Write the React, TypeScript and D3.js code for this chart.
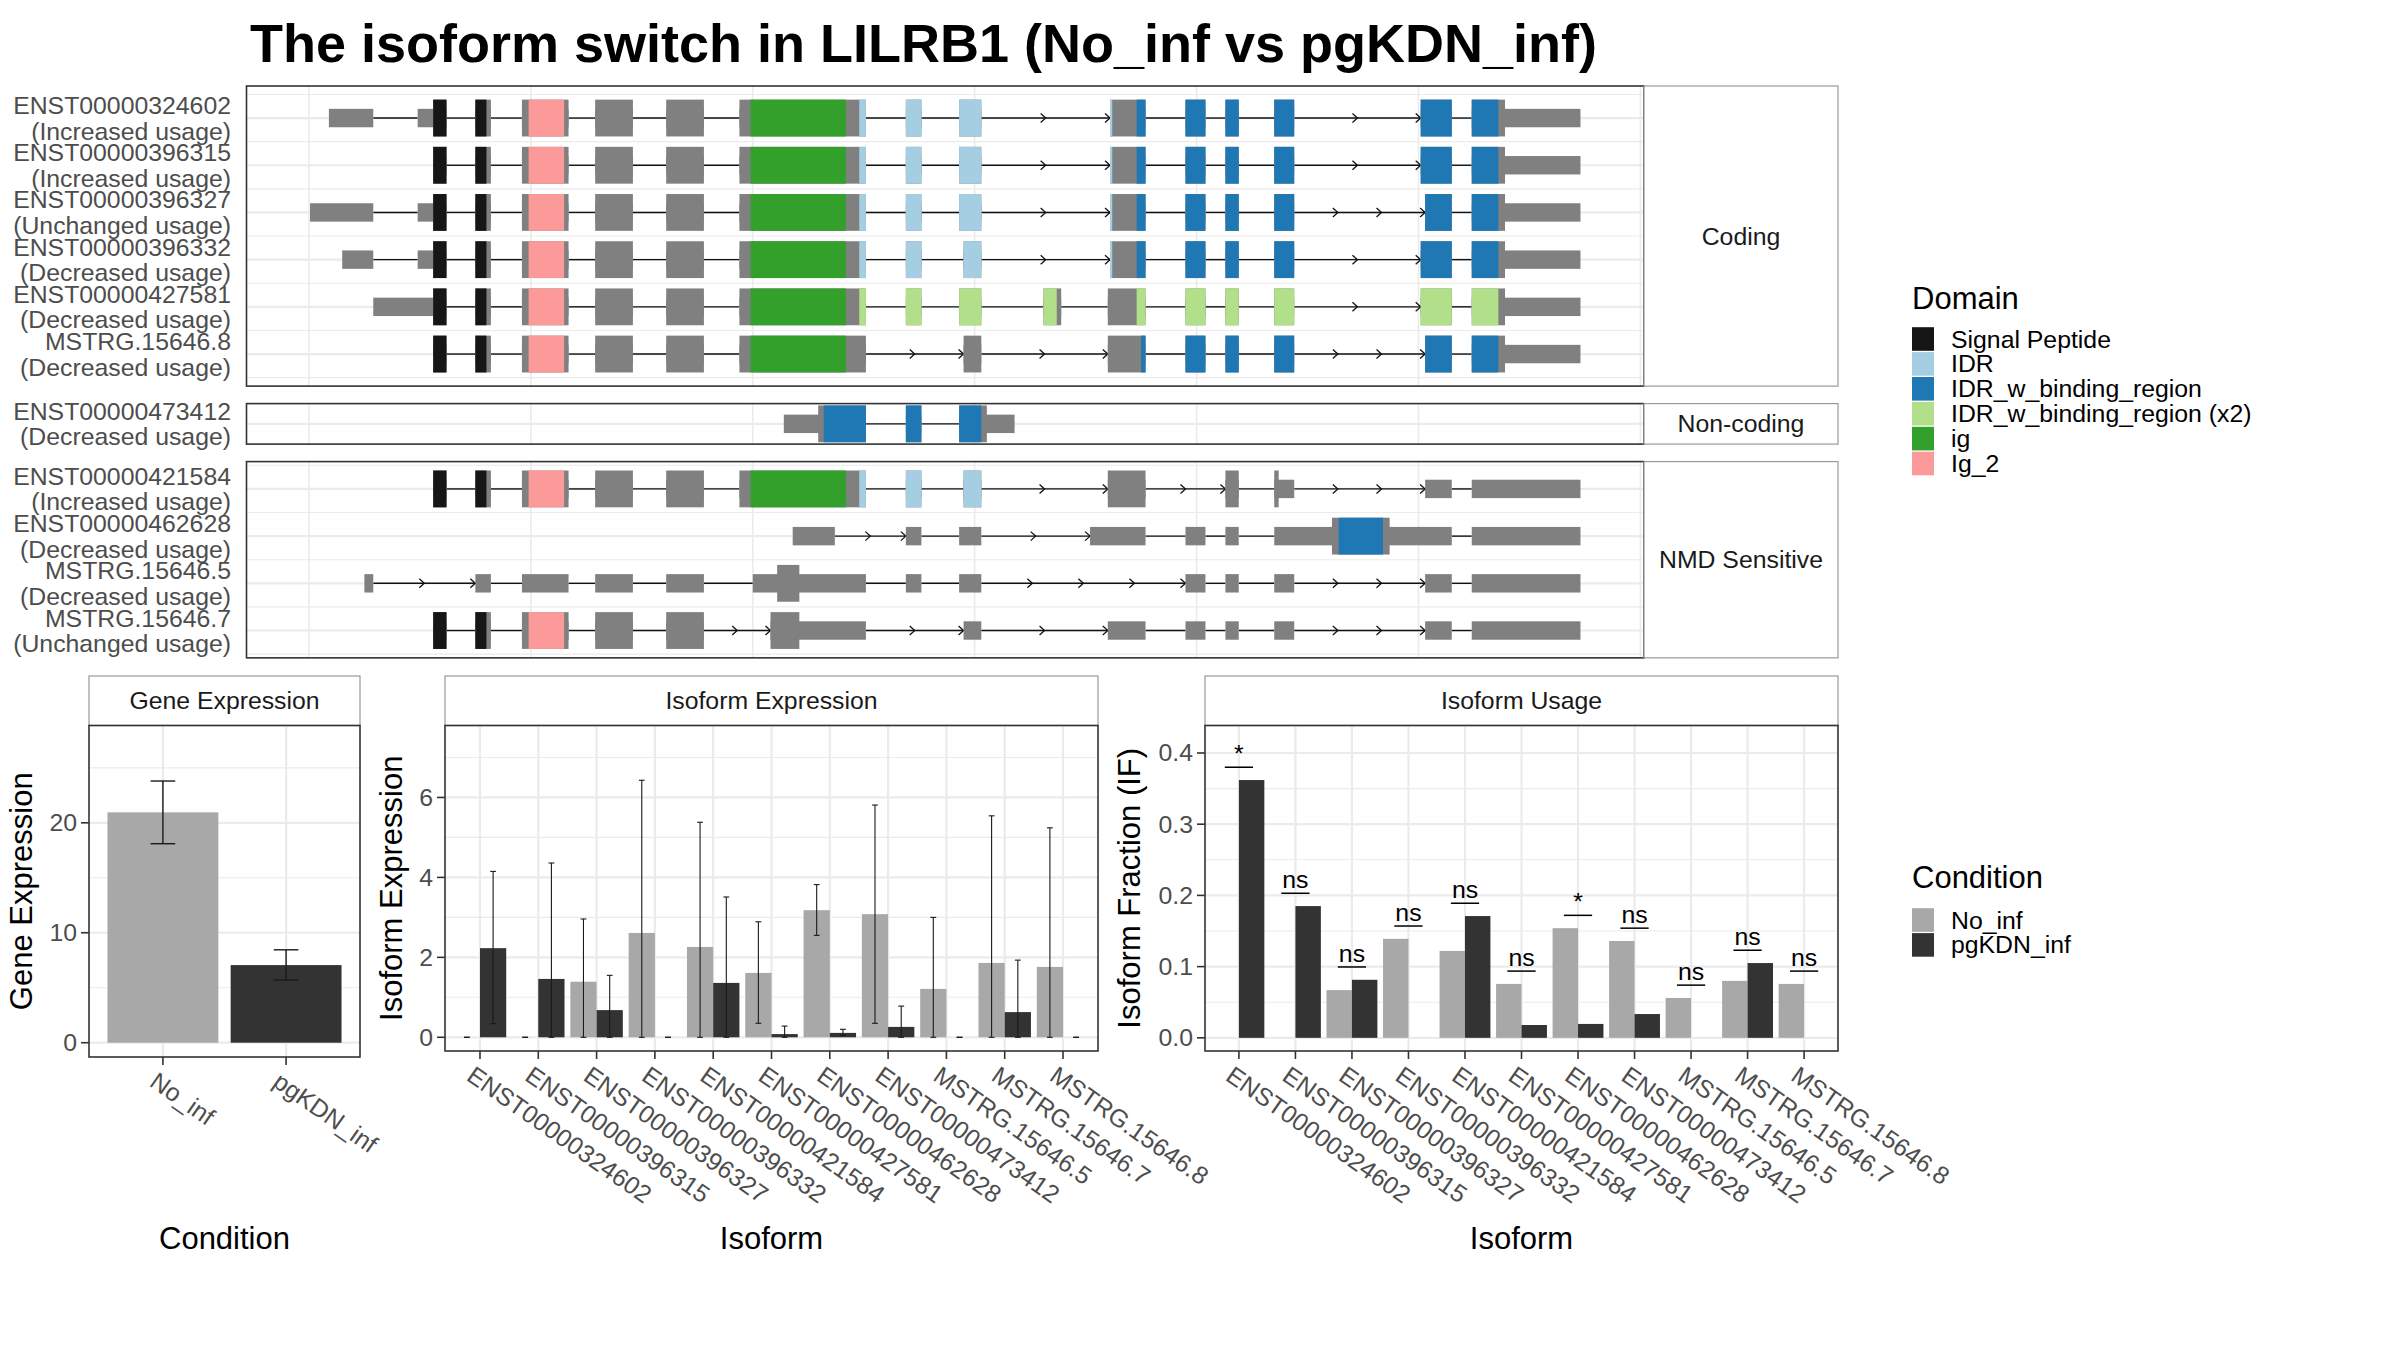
import React from 'react';
import * as d3 from 'd3';

const FONT = '"Liberation Sans", Arial, Helvetica, sans-serif';

// ---------- Legends ----------
const domainNames = ['Signal Peptide', 'IDR', 'IDR_w_binding_region', 'IDR_w_binding_region (x2)', 'ig', 'Ig_2'];
const domainColors = ['#161616', '#A6CEE3', '#1F78B4', '#B2DF8A', '#33A02C', '#FB9A99'];
const conditions = ['No_inf', 'pgKDN_inf'];
const conditionColors = ['#A8A8A8', '#333333'];

// ---------- Transcript structures ----------
const panelNames = ['Coding', 'Non-coding', 'NMD Sensitive'];
const transcriptIds = [
  'ENST00000324602', 'ENST00000396315', 'ENST00000396327', 'ENST00000396332', 'ENST00000427581', 'MSTRG.15646.8',
  'ENST00000473412',
  'ENST00000421584', 'ENST00000462628', 'MSTRG.15646.5', 'MSTRG.15646.7',
];
const transcriptStatus = [
  'Increased usage', 'Increased usage', 'Unchanged usage', 'Decreased usage', 'Decreased usage', 'Decreased usage',
  'Decreased usage',
  'Increased usage', 'Decreased usage', 'Decreased usage', 'Unchanged usage',
];
const transcriptPanel = [0, 0, 0, 0, 0, 0, 1, 2, 2, 2, 2];
const transcriptExons: number[][][] = [
  [[9, 29], [49, 62], [75, 82], [96, 117], [129, 146], [161, 178], [194, 251], [269, 276], [293, 303], [361, 377], [395, 404], [413, 419], [435, 444], [501, 515], [524, 573]],
  [[56, 62], [75, 82], [96, 117], [129, 146], [161, 178], [194, 251], [269, 276], [293, 303], [361, 377], [395, 404], [413, 419], [435, 444], [501, 515], [524, 573]],
  [[0.5, 29], [49, 62], [75, 82], [96, 117], [129, 146], [161, 178], [194, 251], [269, 276], [293, 303], [361, 377], [395, 404], [413, 419], [435, 444], [503, 515], [524, 573]],
  [[15, 29], [49, 62], [75, 82], [96, 117], [129, 146], [161, 178], [194, 251], [269, 276], [295, 303], [361, 377], [395, 404], [413, 419], [435, 444], [501, 515], [524, 573]],
  [[29, 62], [75, 82], [96, 117], [129, 146], [161, 178], [194, 251], [269, 276], [293, 303], [331, 339], [360, 377], [395, 404], [413, 419], [435, 444], [501, 515], [524, 573]],
  [[56, 62], [75, 82], [96, 117], [129, 146], [161, 178], [194, 251], [295, 303], [360, 377], [395, 404], [413, 419], [435, 444], [503, 515], [524, 573]],
  [[214, 251], [269, 276], [293, 318]],
  [[56, 62], [75, 82], [96, 117], [129, 146], [161, 178], [194, 251], [269, 276], [295, 303], [360, 377], [413, 419], [435, 444], [503, 515], [524, 573]],
  [[218, 237], [269, 276], [293, 303], [352, 377], [395, 404], [413, 419], [435, 515], [524, 573]],
  [[25, 29], [75, 82], [96, 117], [129, 146], [161, 178], [200, 251], [269, 276], [293, 303], [395, 404], [413, 419], [435, 444], [503, 515], [524, 573]],
  [[56, 62], [75, 82], [96, 117], [129, 146], [161, 178], [208, 251], [295, 303], [360, 377], [395, 404], [413, 419], [435, 444], [503, 515], [524, 573]],
];
const transcriptCds = [
  [56, 539], [56, 539], [56, 539], [56, 539], [56, 539], [56, 539],
  [229.5, 305.5],
  [56, 437], [461, 487], [211, 221], [56, 221],
];
const transcriptDomains: [string, number, number][][] = [
  [['Signal Peptide', 56, 80], ['Ig_2', 99, 115], ['ig', 199, 242], ['IDR', 248, 362], ['IDR_w_binding_region', 373, 536]],
  [['Signal Peptide', 56, 80], ['Ig_2', 99, 115], ['ig', 199, 242], ['IDR', 248, 362], ['IDR_w_binding_region', 373, 536]],
  [['Signal Peptide', 56, 80], ['Ig_2', 99, 115], ['ig', 199, 242], ['IDR', 248, 362], ['IDR_w_binding_region', 373, 536]],
  [['Signal Peptide', 56, 80], ['Ig_2', 99, 115], ['ig', 199, 242], ['IDR', 248, 362], ['IDR_w_binding_region', 373, 536]],
  [['Signal Peptide', 56, 80], ['Ig_2', 99, 115], ['ig', 199, 242], ['IDR_w_binding_region (x2)', 248, 337], ['IDR_w_binding_region (x2)', 373, 536]],
  [['Signal Peptide', 56, 80], ['Ig_2', 99, 115], ['ig', 199, 242], ['IDR_w_binding_region', 375, 536]],
  [['IDR_w_binding_region', 232, 303]],
  [['Signal Peptide', 56, 80], ['Ig_2', 99, 115], ['ig', 199, 242], ['IDR', 248, 303]],
  [['IDR_w_binding_region', 464, 484]],
  [],
  [['Signal Peptide', 56, 80], ['Ig_2', 99, 115]],
];

// ---------- Expression data ----------
const geneValues = [20.95, 7.06];
const geneLow = [18.1, 5.7];
const geneHigh = [23.8, 8.45];

const isoforms = [
  'ENST00000324602', 'ENST00000396315', 'ENST00000396327', 'ENST00000396332', 'ENST00000421584', 'ENST00000427581',
  'ENST00000462628', 'ENST00000473412', 'MSTRG.15646.5', 'MSTRG.15646.7', 'MSTRG.15646.8',
];
const isoExpNoInf = [0, 0, 1.39, 2.61, 2.26, 1.61, 3.18, 3.08, 1.21, 1.86, 1.76];
const isoExpNoInfLow = [0, 0, 0, 0, 0, 0.35, 2.55, 0.35, 0, 0, 0];
const isoExpNoInfHigh = [0, 0, 2.96, 6.43, 5.38, 2.89, 3.82, 5.81, 3.0, 5.54, 5.24];
const isoExpPg = [2.23, 1.46, 0.68, 0, 1.36, 0.08, 0.11, 0.26, 0, 0.63, 0];
const isoExpPgLow = [0.34, 0, 0, 0, 0, 0, 0.05, 0, 0, 0, 0];
const isoExpPgHigh = [4.15, 4.36, 1.55, 0, 3.51, 0.28, 0.2, 0.78, 0, 1.93, 0];

const usageNoInf = [0, 0, 0.067, 0.139, 0.122, 0.0757, 0.154, 0.136, 0.056, 0.08, 0.0757];
const usagePg = [0.362, 0.185, 0.0815, 0, 0.171, 0.018, 0.0195, 0.0334, 0, 0.105, 0];
const usageSig = ['*', 'ns', 'ns', 'ns', 'ns', 'ns', '*', 'ns', 'ns', 'ns', 'ns'];

// ---------- helpers ----------
const GRID = '#EBEBEB';
const AXIS = '#333333';
const TICKTXT = '#4D4D4D';
const BASE = 31;
const SMALL = 24.8;

function minorTicks(major: number[], domain: number[]) {
  if (major.length < 2) return [];
  const step = major[1] - major[0];
  const out: number[] = [];
  for (let v = major[0] - step / 2; v <= domain[1]; v += step) {
    if (v >= domain[0]) out.push(v);
  }
  return out;
}

type Series = { values: number[]; low?: number[]; high?: number[]; colors: string[] };
type BarPanelProps = {
  title: string;
  left: number; right: number; top: number; bottom: number; stripTop: number;
  cats: string[];
  yDomain: number[];
  nTicks: number;
  fmt: (v: number) => string;
  series: Series[];
  single?: boolean;
  errW: number;
  errStroke: number;
  sig?: string[];
  yTitle: string; yTitleX: number;
  xTitle: string;
  angle: number;
};

function BarPanel(p: BarPanelProps) {
  const x = d3.scalePoint<string>().domain(p.cats).range([p.left, p.right]).padding(0.6);
  const step = x.step();
  const y = d3.scaleLinear().domain(p.yDomain).range([p.bottom, p.top]);
  const major = y.ticks(p.nTicks);
  const minor = minorTicks(major, p.yDomain);
  const nS = p.series.length;
  const barW = p.single ? step * 0.9 : step * 0.45;
  const cx = (c: string, si: number) => (x(c) as number) + (p.single ? 0 : (si - (nS - 1) / 2) * barW);
  return (
    <g>
      <rect x={p.left} y={p.stripTop} width={p.right - p.left} height={p.top - p.stripTop} fill="#FFFFFF" stroke="#999999" strokeWidth={1.2} />
      <text x={(p.left + p.right) / 2} y={(p.stripTop + p.top) / 2} textAnchor="middle" dominantBaseline="central" fontSize={SMALL} fill="#1A1A1A">{p.title}</text>
      {minor.map((v) => <line key={'mi' + v} x1={p.left} x2={p.right} y1={y(v)} y2={y(v)} stroke={GRID} strokeWidth={1.1} />)}
      {major.map((v) => <line key={'ma' + v} x1={p.left} x2={p.right} y1={y(v)} y2={y(v)} stroke={GRID} strokeWidth={2.2} />)}
      {p.cats.map((c) => <line key={'vx' + c} x1={x(c)} x2={x(c)} y1={p.top} y2={p.bottom} stroke={GRID} strokeWidth={2.2} />)}
      {p.series.map((s, si) => p.cats.map((c, ci) => {
        const v = s.values[ci];
        if (v <= 0) return null;
        return <rect key={'b' + si + c} x={cx(c, si) - barW / 2} y={y(v)} width={barW} height={y(0) - y(v)} fill={s.colors[ci % s.colors.length]} />;
      }))}
      {p.series.map((s, si) => s.high ? p.cats.map((c, ci) => {
        const xc = cx(c, si);
        const lo = s.low![ci], hi = s.high![ci];
        const hw = p.errW * step / 2;
        return (
          <g key={'e' + si + c} stroke="#1A1A1A" strokeWidth={p.errStroke}>
            <line x1={xc} x2={xc} y1={y(lo)} y2={y(hi)} />
            <line x1={xc - hw} x2={xc + hw} y1={y(lo)} y2={y(lo)} />
            <line x1={xc - hw} x2={xc + hw} y1={y(hi)} y2={y(hi)} />
          </g>
        );
      }) : null)}
      {p.sig ? p.cats.map((c, ci) => {
        const m = Math.max(...p.series.map((s) => s.values[ci])) + 0.018;
        const xc = x(c) as number;
        return (
          <g key={'s' + c}>
            <line x1={xc - step * 0.25} x2={xc + step * 0.25} y1={y(m)} y2={y(m)} stroke="#000" strokeWidth={1.5} />
            <text x={xc} y={y(m) - 5} textAnchor="middle" fontSize={SMALL} fill="#000">{p.sig![ci]}</text>
          </g>
        );
      }) : null}
      <rect x={p.left} y={p.top} width={p.right - p.left} height={p.bottom - p.top} fill="none" stroke={AXIS} strokeWidth={1.6} />
      {major.map((v) => (
        <g key={'yt' + v}>
          <line x1={p.left - 8} x2={p.left} y1={y(v)} y2={y(v)} stroke={AXIS} strokeWidth={1.6} />
          <text x={p.left - 12} y={y(v)} textAnchor="end" dominantBaseline="central" fontSize={SMALL} fill={TICKTXT}>{p.fmt(v)}</text>
        </g>
      ))}
      {p.cats.map((c) => (
        <g key={'xt' + c}>
          <line x1={x(c)} x2={x(c)} y1={p.bottom} y2={p.bottom + 8} stroke={AXIS} strokeWidth={1.6} />
          <text transform={`translate(${(x(c) as number) - 4},${p.bottom + 13}) rotate(${p.angle})`} textAnchor="start" dy="0.75em" fontSize={SMALL} fill={TICKTXT}>{c}</text>
        </g>
      ))}
      <text transform={`translate(${p.yTitleX},${(p.top + p.bottom) / 2}) rotate(-90)`} textAnchor="middle" dominantBaseline="central" fontSize={BASE} fill="#000">{p.yTitle}</text>
      <text x={(p.left + p.right) / 2} y={1249} textAnchor="middle" fontSize={BASE} fill="#000">{p.xTitle}</text>
    </g>
  );
}

export default function App() {
  const W = 2400, H = 1350;
  const tLeft = 246.5, tRight = 1644, stripRight = 1838;
  const unitPx = 47.2;
  const half = 0.39, halfThin = 0.195;
  const starts = transcriptExons.flat().map((e) => e[0]);
  const ends = transcriptExons.flat().map((e) => e[1]);
  const xMin = d3.min(starts) as number, xMax = d3.max(ends) as number;
  const xPad = (xMax - xMin) * 0.05;
  const tx = d3.scaleLinear().domain([xMin - xPad, xMax + xPad]).range([tLeft, tRight]);
  const xGrid = tx.ticks(6).filter((v) => tx(v) > tLeft + 2 && tx(v) < tRight - 2);
  const domColor = (n: string) => domainColors[domainNames.indexOf(n)];
  const segLen = 29.25;

  let top = 86;
  const panels = panelNames.map((name, pi) => {
    const idx = transcriptPanel.map((pp, i) => (pp === pi ? i : -1)).filter((i) => i >= 0);
    const n = idx.length;
    const span = n - 1 + 2 * half;
    const lo = 1 - half - 0.05 * span, hi = n + half + 0.05 * span;
    const h = (hi - lo) * unitPx;
    const y = d3.scaleLinear().domain([lo, hi]).range([top, top + h]);
    const res = { name, idx, n, y, top, h, lo, hi };
    top += h + 17.5;
    return res;
  });

  const transcriptEls = panels.map((P) => {
    const minorY = P.n > 1 ? d3.range(0.5, P.n + 1, 1).filter((v) => v > P.lo && v < P.hi) : [];
    return (
      <g key={P.name}>
        {minorY.map((v) => <line key={'m' + v} x1={tLeft} x2={tRight} y1={P.y(v)} y2={P.y(v)} stroke={GRID} strokeWidth={1.1} />)}
        {xGrid.map((v) => <line key={'g' + v} x1={tx(v)} x2={tx(v)} y1={P.top} y2={P.top + P.h} stroke={GRID} strokeWidth={1.6} />)}
        {P.idx.map((ti, r) => <line key={'h' + ti} x1={tLeft} x2={tRight} y1={P.y(r + 1)} y2={P.y(r + 1)} stroke={GRID} strokeWidth={2.2} />)}
        {P.idx.map((ti, r) => {
          const row = r + 1;
          const yc = P.y(row);
          const exons = transcriptExons[ti];
          const cds = transcriptCds[ti];
          const doms = transcriptDomains[ti];
          const introns = exons.slice(1).map((e, k) => [exons[k][1], e[0]]);
          return (
            <g key={'t' + ti}>
              {introns.map(([a, b], k) => {
                const len = b - a;
                const nSeg = Math.ceil(len / segLen);
                const arrows = nSeg >= 2 ? d3.range(1, nSeg + 1).map((j) => a + (j * len) / nSeg) : [];
                return (
                  <g key={'i' + k}>
                    <line x1={tx(a)} x2={tx(b)} y1={yc} y2={yc} stroke="#111" strokeWidth={1.4} />
                    {arrows.map((ax, j) => (
                      <path key={j} d={`M${tx(ax) - 5},${yc - 4.5} L${tx(ax)},${yc} L${tx(ax) - 5},${yc + 4.5}`} fill="none" stroke="#111" strokeWidth={1.3} />
                    ))}
                  </g>
                );
              })}
              {exons.map(([s, e], k) => {
                const cs = Math.max(s, cds[0]), ce = Math.min(e, cds[1]);
                return (
                  <g key={'x' + k}>
                    <rect x={tx(s)} width={tx(e) - tx(s)} y={P.y(row - halfThin)} height={P.y(row + halfThin) - P.y(row - halfThin)} fill="#808080" />
                    {ce > cs ? <rect x={tx(cs)} width={tx(ce) - tx(cs)} y={P.y(row - half)} height={P.y(row + half) - P.y(row - half)} fill="#808080" /> : null}
                    {doms.map(([dn, ds, de], j) => {
                      const a = Math.max(s, ds), b = Math.min(e, de);
                      if (b <= a) return null;
                      return <rect key={j} x={tx(a)} width={tx(b) - tx(a)} y={P.y(row - half)} height={P.y(row + half) - P.y(row - half)} fill={domColor(dn)} />;
                    })}
                  </g>
                );
              })}
              <text x={231} y={yc - 4} textAnchor="end" fontSize={SMALL} fill={TICKTXT}>{transcriptIds[ti]}</text>
              <text x={231} y={yc + 21.5} textAnchor="end" fontSize={SMALL} fill={TICKTXT}>{'(' + transcriptStatus[ti] + ')'}</text>
            </g>
          );
        })}
        <rect x={tLeft} y={P.top} width={tRight - tLeft} height={P.h} fill="none" stroke={AXIS} strokeWidth={1.6} />
        <rect x={tRight} y={P.top} width={stripRight - tRight} height={P.h} fill="#FFFFFF" stroke="#999999" strokeWidth={1.2} />
        <text x={(tRight + stripRight) / 2} y={P.top + P.h / 2} textAnchor="middle" dominantBaseline="central" fontSize={SMALL} fill="#1A1A1A">{P.name}</text>
      </g>
    );
  });

  const stripTop = 676, pTop = 725.5;

  return (
    <svg width={W} height={H} style={{ position: 'absolute', left: 0, top: 0, background: '#FFFFFF' }} fontFamily={FONT}>
      <rect x={0} y={0} width={W} height={H} fill="#FFFFFF" />
      <text x={250} y={62} fontSize={54} fontWeight="bold" fill="#000">The isoform switch in LILRB1 (No_inf vs pgKDN_inf)</text>
      {transcriptEls}

      <BarPanel title="Gene Expression" left={89} right={360} top={pTop} bottom={1057} stripTop={stripTop}
        cats={conditions} yDomain={[-1.3, 28.85]} nTicks={3} fmt={d3.format('d')}
        series={[{ values: geneValues, low: geneLow, high: geneHigh, colors: conditionColors }]}
        single errW={0.2} errStroke={1.4} yTitle="Gene Expression" yTitleX={21} xTitle="Condition" angle={35} />

      <BarPanel title="Isoform Expression" left={445} right={1098} top={pTop} bottom={1051} stripTop={stripTop}
        cats={isoforms} yDomain={[-0.343, 7.8]} nTicks={4} fmt={d3.format('d')}
        series={[
          { values: isoExpNoInf, low: isoExpNoInfLow, high: isoExpNoInfHigh, colors: [conditionColors[0]] },
          { values: isoExpPg, low: isoExpPgLow, high: isoExpPgHigh, colors: [conditionColors[1]] },
        ]}
        errW={0.1} errStroke={1.1} yTitle="Isoform Expression" yTitleX={391} xTitle="Isoform" angle={35} />

      <BarPanel title="Isoform Usage" left={1205} right={1838} top={pTop} bottom={1051} stripTop={stripTop}
        cats={isoforms} yDomain={[-0.0185, 0.4386]} nTicks={5} fmt={d3.format('.1f')}
        series={[
          { values: usageNoInf, colors: [conditionColors[0]] },
          { values: usagePg, colors: [conditionColors[1]] },
        ]}
        errW={0} errStroke={0} sig={usageSig} yTitle="Isoform Fraction (IF)" yTitleX={1129} xTitle="Isoform" angle={35} />

      <text x={1912} y={298} dominantBaseline="central" fontSize={BASE} fill="#000">Domain</text>
      {domainNames.map((d, i) => (
        <g key={d}>
          <rect x={1912} y={339 + i * 24.9 - 11.8} width={22} height={23.6} fill={domainColors[i]} />
          <text x={1951} y={339 + i * 24.9} dominantBaseline="central" fontSize={SMALL} fill="#000">{d}</text>
        </g>
      ))}
      <text x={1912} y={877} dominantBaseline="central" fontSize={BASE} fill="#000">Condition</text>
      {conditions.map((c, i) => (
        <g key={c}>
          <rect x={1912} y={920 + i * 24.9 - 11.8} width={22} height={23.6} fill={conditionColors[i]} />
          <text x={1951} y={920 + i * 24.9} dominantBaseline="central" fontSize={SMALL} fill="#000">{c}</text>
        </g>
      ))}
    </svg>
  );
}
